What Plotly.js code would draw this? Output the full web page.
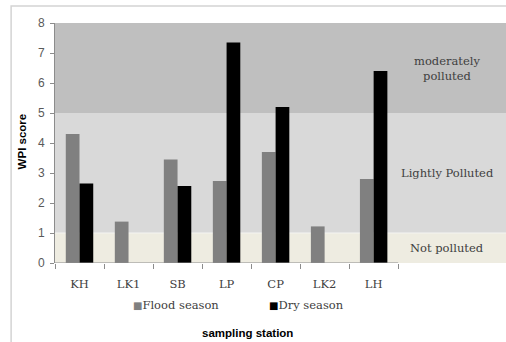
<!DOCTYPE html>
<html>
<head>
<meta charset="utf-8">
<script src="https://cdn.plot.ly/plotly-3.0.1.min.js"></script>
<style>
  html, body { margin: 0; padding: 0; background: #fff; }
  #chart { width: 506px; height: 342px; }
</style>
</head>
<body>
<div id="chart"></div>
<script>
// Water Pollution Index (WPI) per sampling station, flood vs dry season
const stations = ['KH', 'LK1', 'SB', 'LP', 'CP', 'LK2', 'LH'];
const floodSeason = [4.3, 1.38, 3.45, 2.73, 3.7, 1.22, 2.8];
const drySeason = [2.65, 0, 2.57, 7.35, 5.2, 0, 6.4];

// pollution classes: bounds, fills, labels and label heights
const classBounds = [0, 1, 5, 8];
const classFills = ['#eeece1', '#d9d9d9', '#bfbfbf'];
const classLabels = ['Not polluted', 'Lightly Polluted', 'moderately<br>polluted'];
const classLabelY = [0.5, 3.0, 6.5];

const serif = 'DejaVu Serif, serif';
const sans = 'Liberation Sans, Arial, sans-serif';

const traces = [
  {
    type: 'bar', name: 'Flood season', x: stations, y: floodSeason,
    marker: { color: '#808080' }, showlegend: false
  },
  {
    type: 'bar', name: 'Dry season', x: stations, y: drySeason,
    marker: { color: '#000000' }, showlegend: false
  }
];

const shapes = [];
for (let i = 0; i < classFills.length; i++) {
  shapes.push({
    type: 'rect', layer: 'below', xref: 'paper', yref: 'y',
    x0: 0, x1: 1, y0: classBounds[i], y1: classBounds[i + 1],
    fillcolor: classFills[i], line: { width: 0 }
  });
}
// thin light seam between the lower two bands
shapes.push({
  type: 'line', layer: 'below', xref: 'paper', yref: 'y',
  x0: 0, x1: 1, y0: classBounds[1], y1: classBounds[1],
  line: { color: '#f4f4f2', width: 1 }
});
// category axis line, spanning the stations only
shapes.push({
  type: 'line', layer: 'above', xref: 'x', yref: 'y',
  x0: -0.5, x1: stations.length - 0.5, y0: 0, y1: 0,
  line: { color: '#8c8c8c', width: 1 }
});
// outer chart frame
shapes.push({
  type: 'rect', layer: 'below', xref: 'paper', yref: 'paper',
  x0: -0.0973, x1: 1.05, y0: -0.6, y1: 1.0708,
  fillcolor: 'rgba(0,0,0,0)', line: { color: '#d4d4d4', width: 1.5 }
});

const annotations = [];
for (let i = 0; i < classLabels.length; i++) {
  annotations.push({
    xref: 'x', yref: 'y', x: 7.5, y: classLabelY[i],
    text: classLabels[i], showarrow: false,
    font: { family: serif, size: 11.5, color: '#404040' },
    xanchor: 'center', yanchor: 'middle'
  });
}
// legend entries
annotations.push({
  xref: 'paper', yref: 'paper', x: 0.168, y: -0.175,
  xanchor: 'left', yanchor: 'middle', showarrow: false,
  text: '<span style="color:#808080;font-size:10px">■</span>' + traces[0].name,
  font: { family: serif, size: 11.5, color: '#404040' }
});
annotations.push({
  xref: 'paper', yref: 'paper', x: 0.469, y: -0.175,
  xanchor: 'left', yanchor: 'middle', showarrow: false,
  text: '<span style="color:#000000;font-size:10px">■</span>' + traces[1].name,
  font: { family: serif, size: 11.5, color: '#404040' }
});
// axis titles
annotations.push({
  xref: 'paper', yref: 'paper', x: 0.427, y: -0.2917,
  xanchor: 'center', yanchor: 'middle', showarrow: false,
  text: '<b>sampling station</b>',
  font: { family: sans, size: 11.5, color: '#000000' }
});
annotations.push({
  xref: 'paper', yref: 'paper', x: -0.0725, y: 0.508,
  xanchor: 'center', yanchor: 'middle', showarrow: false, textangle: -90,
  text: '<b>WPI score</b>',
  font: { family: sans, size: 11.5, color: '#000000' }
});

const layout = {
  width: 506, height: 342,
  margin: { l: 55, r: 0, t: 23, b: 79, pad: 0 },
  paper_bgcolor: '#ffffff',
  plot_bgcolor: 'rgba(0,0,0,0)',
  barmode: 'group',
  bargap: 0.44,
  bargroupgap: 0,
  showlegend: false,
  xaxis: {
    type: 'category',
    range: [-0.5, 8.70],
    tickson: 'boundaries',
    ticks: 'outside', ticklen: 5, tickcolor: '#8c8c8c', tickwidth: 1,
    showline: false, showgrid: false, zeroline: false,
    ticklabelstandoff: 12,
    tickfont: { family: serif, size: 11.5, color: '#404040' }
  },
  yaxis: {
    range: [0, 8], dtick: 1, tick0: 0,
    ticks: 'outside', ticklen: 4, tickcolor: '#8c8c8c', tickwidth: 1,
    showline: true, linecolor: '#8c8c8c', linewidth: 1,
    showgrid: false, zeroline: false,
    ticklabelstandoff: 3,
    tickfont: { family: sans, size: 12, color: '#595959' }
  },
  shapes: shapes,
  annotations: annotations
};

Plotly.newPlot('chart', traces, layout, { displayModeBar: false, staticPlot: true });
</script>
</body>
</html>
